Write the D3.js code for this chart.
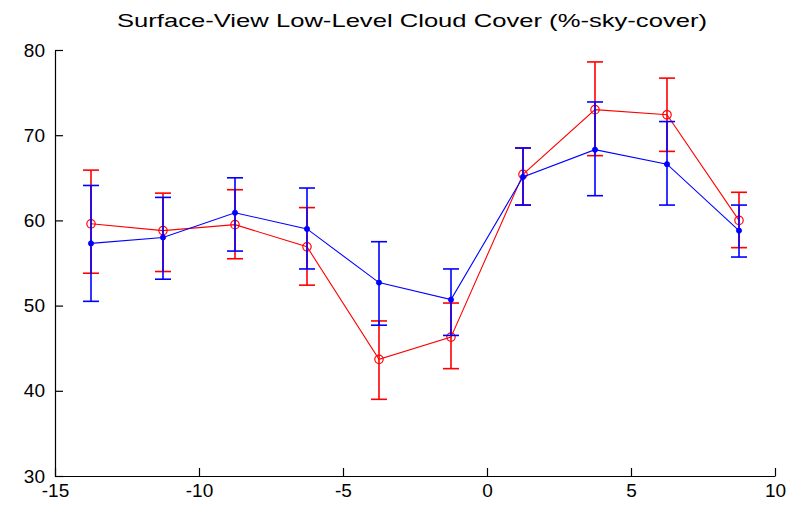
<!DOCTYPE html>
<html>
<head>
<meta charset="utf-8">
<script src="https://cdn.jsdelivr.net/npm/d3@7"></script>
<style>
  html, body { margin: 0; padding: 0; background: #fff; }
  svg { display: block; }
  text { font-family: "Liberation Sans", Arial, sans-serif; fill: #000; }
</style>
</head>
<body>
<svg id="chart" width="802" height="512"></svg>
<script>
// Lag (x) positions of each composite bin
const lags = [-13.75, -11.25, -8.75, -6.25, -3.75, -1.25, 1.25, 3.75, 6.25, 8.75];

// Red series (open circles): mean and error-bar limits
const redMean = [59.6, 58.8, 59.5, 56.9, 43.7, 46.3, 65.4, 73.0, 72.4, 60.0];
const redLow  = [53.8, 54.0, 55.5, 52.4, 39.0, 42.6, 61.8, 67.6, 68.1, 56.8];
const redHigh = [65.9, 63.2, 63.6, 61.5, 48.2, 50.3, 68.5, 78.6, 76.7, 63.3];

// Blue series (dots): mean and error-bar limits
const blueMean = [57.3, 58.0, 60.9, 59.0, 52.7, 50.7, 65.1, 68.3, 66.6, 58.8];
const blueLow  = [50.5, 53.1, 56.4, 54.3, 47.7, 46.5, 61.8, 62.9, 61.8, 55.7];
const blueHigh = [64.1, 62.7, 65.0, 63.8, 57.5, 54.3, 68.5, 73.9, 71.6, 61.8];

const xTicks = [-15, -10, -5, 0, 5, 10];
const yTicks = [30, 40, 50, 60, 70, 80];
const titleText = "Surface-View Low-Level Cloud Cover (%-sky-cover)";

const svg = d3.select("#chart");
const plotLeft = 55, plotRight = 775, plotTop = 50, plotBottom = 476;

const x = d3.scaleLinear().domain([-15, 10]).range([plotLeft, plotRight]);
const y = d3.scaleLinear().domain([30, 80]).range([plotBottom, plotTop]);

// Plain hyphen-minus labels
const plainLabel = d => String(d);

// Axes: ticks point inward, no box
const xAxis = svg.append("g")
  .attr("transform", `translate(0,${plotBottom})`)
  .call(d3.axisBottom(x).tickValues(xTicks).tickSizeInner(-8).tickSizeOuter(0).tickPadding(12)
    .tickFormat(plainLabel));
const yAxis = svg.append("g")
  .attr("transform", `translate(${plotLeft},0)`)
  .call(d3.axisLeft(y).tickValues(yTicks).tickSizeInner(-8).tickSizeOuter(0).tickPadding(10)
    .tickFormat(plainLabel));

[xAxis, yAxis].forEach(g => {
  g.selectAll("path.domain").attr("stroke", "#000").attr("stroke-width", 1.2);
  g.selectAll(".tick line").attr("stroke", "#000").attr("stroke-width", 1.2);
  g.selectAll(".tick text").attr("font-size", 19).attr("font-family", "Liberation Sans, Arial, sans-serif").attr("fill", "#000");
});
xAxis.selectAll(".tick text").attr("dy", "0.45em");

// Title
svg.append("text")
  .attr("x", (plotLeft + plotRight) / 2 - 3)
  .attr("y", 27)
  .attr("text-anchor", "middle")
  .attr("font-size", 19)
  .attr("textLength", 590)
  .attr("lengthAdjust", "spacingAndGlyphs")
  .text(titleText);

function drawSeries(mean, low, high, color, marker) {
  const g = svg.append("g");
  const idx = d3.range(lags.length);
  const capHalf = 8;
  // error bars
  g.selectAll("line.v").data(idx).join("line").attr("class", "v")
    .attr("x1", i => x(lags[i])).attr("x2", i => x(lags[i]))
    .attr("y1", i => y(low[i])).attr("y2", i => y(high[i]))
    .attr("stroke", color).attr("stroke-width", 1.6);
  g.selectAll("line.lo").data(idx).join("line").attr("class", "lo")
    .attr("x1", i => x(lags[i]) - capHalf).attr("x2", i => x(lags[i]) + capHalf)
    .attr("y1", i => y(low[i])).attr("y2", i => y(low[i]))
    .attr("stroke", color).attr("stroke-width", 1.6);
  g.selectAll("line.hi").data(idx).join("line").attr("class", "hi")
    .attr("x1", i => x(lags[i]) - capHalf).attr("x2", i => x(lags[i]) + capHalf)
    .attr("y1", i => y(high[i])).attr("y2", i => y(high[i]))
    .attr("stroke", color).attr("stroke-width", 1.6);
  // connecting line
  const line = d3.line().x(i => x(lags[i])).y(i => y(mean[i]));
  g.append("path").datum(idx).attr("d", line)
    .attr("fill", "none").attr("stroke", color).attr("stroke-width", 1.1);
  // markers
  if (marker === "circle") {
    g.selectAll("circle").data(idx).join("circle")
      .attr("cx", i => x(lags[i])).attr("cy", i => y(mean[i])).attr("r", 4.2)
      .attr("fill", "none").attr("stroke", color).attr("stroke-width", 1.2);
  } else {
    g.selectAll("circle").data(idx).join("circle")
      .attr("cx", i => x(lags[i])).attr("cy", i => y(mean[i])).attr("r", 2.6)
      .attr("fill", color).attr("stroke", color).attr("stroke-width", 0.8);
  }
}

drawSeries(redMean, redLow, redHigh, "#ff0000", "circle");
drawSeries(blueMean, blueLow, blueHigh, "#0000ff", "dot");
</script>
</body>
</html>
